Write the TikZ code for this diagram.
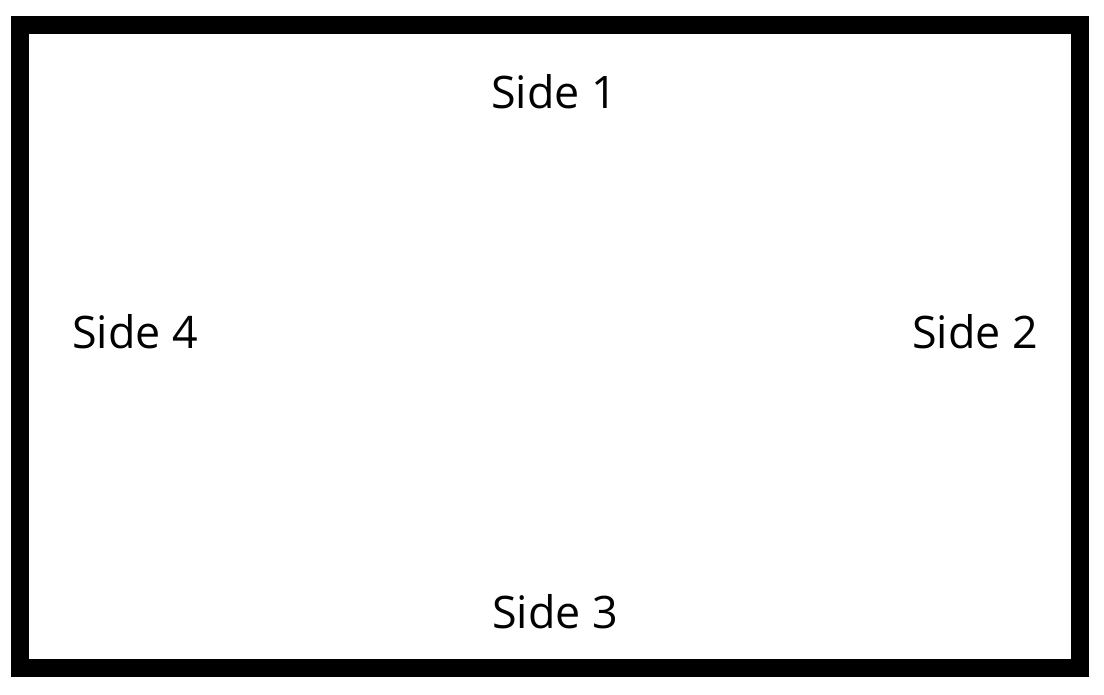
\documentclass[tikz,border=0pt]{standalone}
\usepackage{fontspec}
\setmainfont{Open Sans}
\usepackage{tikz}

\begin{document}
\begin{tikzpicture}[every node/.style={font=\fontsize{25.5}{30}\selectfont}]
  \useasboundingbox (0, 0) rectangle (22.08, 13.88);
  \draw [line width=0.36cm] (0.40, 0.52) rectangle (21.60, 13.38);
  \node (side1) at (11.08, 12.04) {Side 1};
  \node (side2) at (19.50, 7.24) {Side 2};
  \node (side3) at (11.10, 1.64) {Side 3};
  \node (side4) at (2.70, 7.24) {Side 4};
\end{tikzpicture}
\end{document}
